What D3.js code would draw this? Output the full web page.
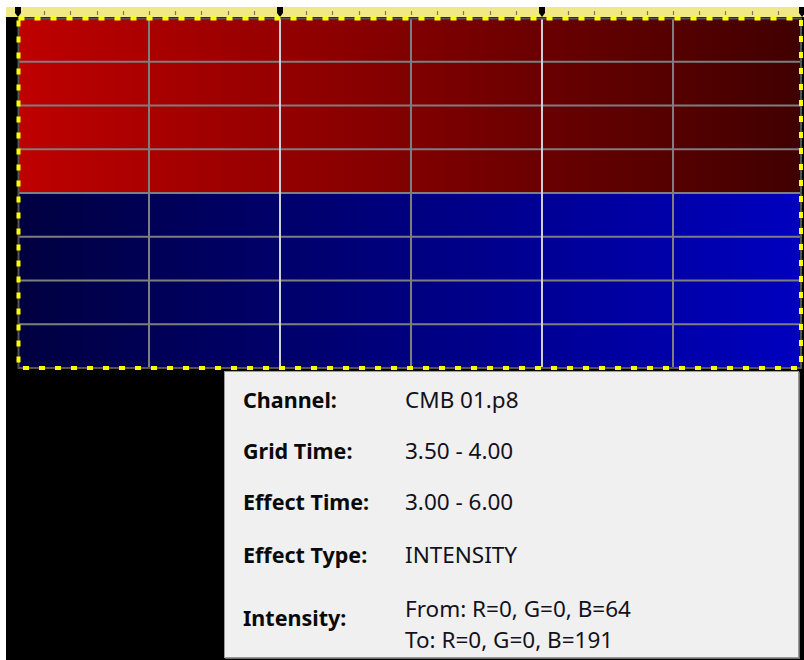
<!DOCTYPE html>
<html>
<head>
<meta charset="utf-8">
<script src="https://cdn.jsdelivr.net/npm/d3@7"></script>
<style>
html,body{margin:0;padding:0;background:#fff;}
svg{display:block;}
</style>
</head>
<body>
<svg id="chart" width="804" height="660"></svg>
<script>
// ---- data ----
const timeStart = 3.0, timeEnd = 6.0;
const gridTimes = [3.0, 3.5, 4.0, 4.5, 5.0, 5.5, 6.0];
const rulerTicks = d3.range(30).map(i => +(3 + i * 0.1).toFixed(1));
const secondMarkers = [3, 4, 5, 6];
const rows = [0, 1, 2, 3, 4, 5, 6, 7];
const rowFrom = ["rgb(191,0,0)","rgb(191,0,0)","rgb(191,0,0)","rgb(191,0,0)","rgb(0,0,64)","rgb(0,0,64)","rgb(0,0,64)","rgb(0,0,64)"];
const rowTo   = ["rgb(64,0,0)","rgb(64,0,0)","rgb(64,0,0)","rgb(64,0,0)","rgb(0,0,191)","rgb(0,0,191)","rgb(0,0,191)","rgb(0,0,191)"];
const tipLabels = ["Channel:", "Grid Time:", "Effect Time:", "Effect Type:", "Intensity:"];
const tipValues = [["CMB 01.p8"], ["3.50 - 4.00"], ["3.00 - 6.00"], ["INTENSITY"], ["From: R=0, G=0, B=64", "To: R=0, G=0, B=191"]];

// ---- layout ----
const svg = d3.select("#chart");
const x = d3.scaleLinear().domain([timeStart, timeEnd]).range([18, 804]);
const y = d3.scaleBand().domain(rows).range([18, 368]).padding(0);
const gridRight = 801;

// backgrounds
svg.append("rect").attr("x", 0).attr("y", 0).attr("width", 804).attr("height", 660).attr("fill", "#fff");
svg.append("rect").attr("x", 6).attr("y", 7).attr("width", 798).attr("height", 653).attr("fill", "#000");

// ruler
svg.append("rect").attr("x", 6).attr("y", 7).attr("width", 798).attr("height", 10).attr("fill", "#f0e986");
svg.append("g").selectAll("line").data(rulerTicks.filter(t => !secondMarkers.includes(Math.round(t*10)/10)))
  .join("line")
  .attr("x1", d => Math.round(x(d)) + 0.5).attr("x2", d => Math.round(x(d)) + 0.5)
  .attr("y1", 11).attr("y2", 15)
  .attr("stroke", "#7a7a6a").attr("stroke-width", 1.2);

// cells with gradients
const defs = svg.append("defs");
const cells = [];
rows.forEach(r => {
  const cs = d3.scaleLinear().domain([timeStart, timeEnd]).range([rowFrom[r], rowTo[r]]).interpolate(d3.interpolateRgb);
  for (let i = 0; i < gridTimes.length - 1; i++) {
    cells.push({r, t0: gridTimes[i], t1: gridTimes[i + 1], c0: cs(gridTimes[i]), c1: cs(gridTimes[i + 1]), id: "g" + r + "_" + i});
  }
});
defs.selectAll("linearGradient").data(cells).join("linearGradient")
  .attr("id", d => d.id).attr("x1", "0%").attr("x2", "100%").attr("y1", "0%").attr("y2", "0%")
  .each(function(d) {
    d3.select(this).append("stop").attr("offset", "0%").attr("stop-color", d.c0);
    d3.select(this).append("stop").attr("offset", "100%").attr("stop-color", d.c1);
  });
svg.append("g").selectAll("rect").data(cells).join("rect")
  .attr("x", d => x(d.t0)).attr("y", d => y(d.r))
  .attr("width", d => Math.min(x(d.t1), gridRight) - x(d.t0)).attr("height", y.bandwidth())
  .attr("fill", d => `url(#${d.id})`);

// grid lines
svg.append("g").selectAll("line").data(rows.slice(1)).join("line")
  .attr("x1", 18).attr("x2", gridRight)
  .attr("y1", d => y(d)).attr("y2", d => y(d))
  .attr("stroke", "#7e7e7e").attr("stroke-width", 2);
svg.append("g").selectAll("line").data(gridTimes.slice(1, -1)).join("line")
  .attr("x1", d => x(d)).attr("x2", d => x(d))
  .attr("y1", 18).attr("y2", 368)
  .attr("stroke", d => Number.isInteger(d) ? "#cfcfd6" : "#7e7e7e").attr("stroke-width", 2);

// second markers on ruler
svg.append("g").selectAll("path").data(secondMarkers).join("path")
  .attr("d", d => { const cx = Math.min(x(d), 802); return `M${cx-3},7 L${cx+3},7 L${cx+3},13 L${cx},17 L${cx-3},13 Z`; })
  .attr("fill", "#000");

// selection border
const bx = 18.5, by = 18.5, bw = gridRight - 18.5, bh = 368 - 18.5;
svg.append("rect").attr("x", bx).attr("y", by).attr("width", bw).attr("height", bh)
  .attr("fill", "none").attr("stroke", "#555").attr("stroke-width", 2);
svg.append("rect").attr("x", bx).attr("y", by).attr("width", bw).attr("height", bh)
  .attr("fill", "none").attr("stroke", "#ffff00").attr("stroke-width", 4).attr("stroke-dasharray", "6,10");

// tooltip
const tip = svg.append("g");
tip.append("rect").attr("x", 224.5).attr("y", 371.5).attr("width", 574).attr("height", 286)
  .attr("fill", "#f0f0f0").attr("stroke", "#9a9a9a").attr("stroke-width", 1);
tip.append("line").attr("x1", 799.5).attr("x2", 799.5).attr("y1", 372).attr("y2", 659).attr("stroke", "#6a6a6a").attr("stroke-width", 1);
tip.append("line").attr("x1", 225).attr("x2", 800).attr("y1", 658.5).attr("y2", 658.5).attr("stroke", "#6a6a6a").attr("stroke-width", 1);

const labelY = [408, 459, 510, 563, 626];
const valueY = [[408], [459], [510], [563], [617, 648]];
const font = "'Segoe UI', 'Noto Sans', 'Open Sans', sans-serif";
tip.selectAll("text.lab").data(tipLabels).join("text").attr("class", "lab")
  .attr("x", 243).attr("y", (d, i) => labelY[i])
  .attr("font-family", font).attr("font-size", 21.5).attr("font-weight", "bold")
  .attr("fill", "#0a0a0a").text(d => d);
tipValues.forEach((vals, i) => {
  tip.selectAll(null).data(vals).join("text")
    .attr("x", 405).attr("y", (d, j) => valueY[i][j])
    .attr("font-family", font).attr("font-size", 22.5)
    .attr("fill", "#12121e").text(d => d);
});
</script>
</body>
</html>
